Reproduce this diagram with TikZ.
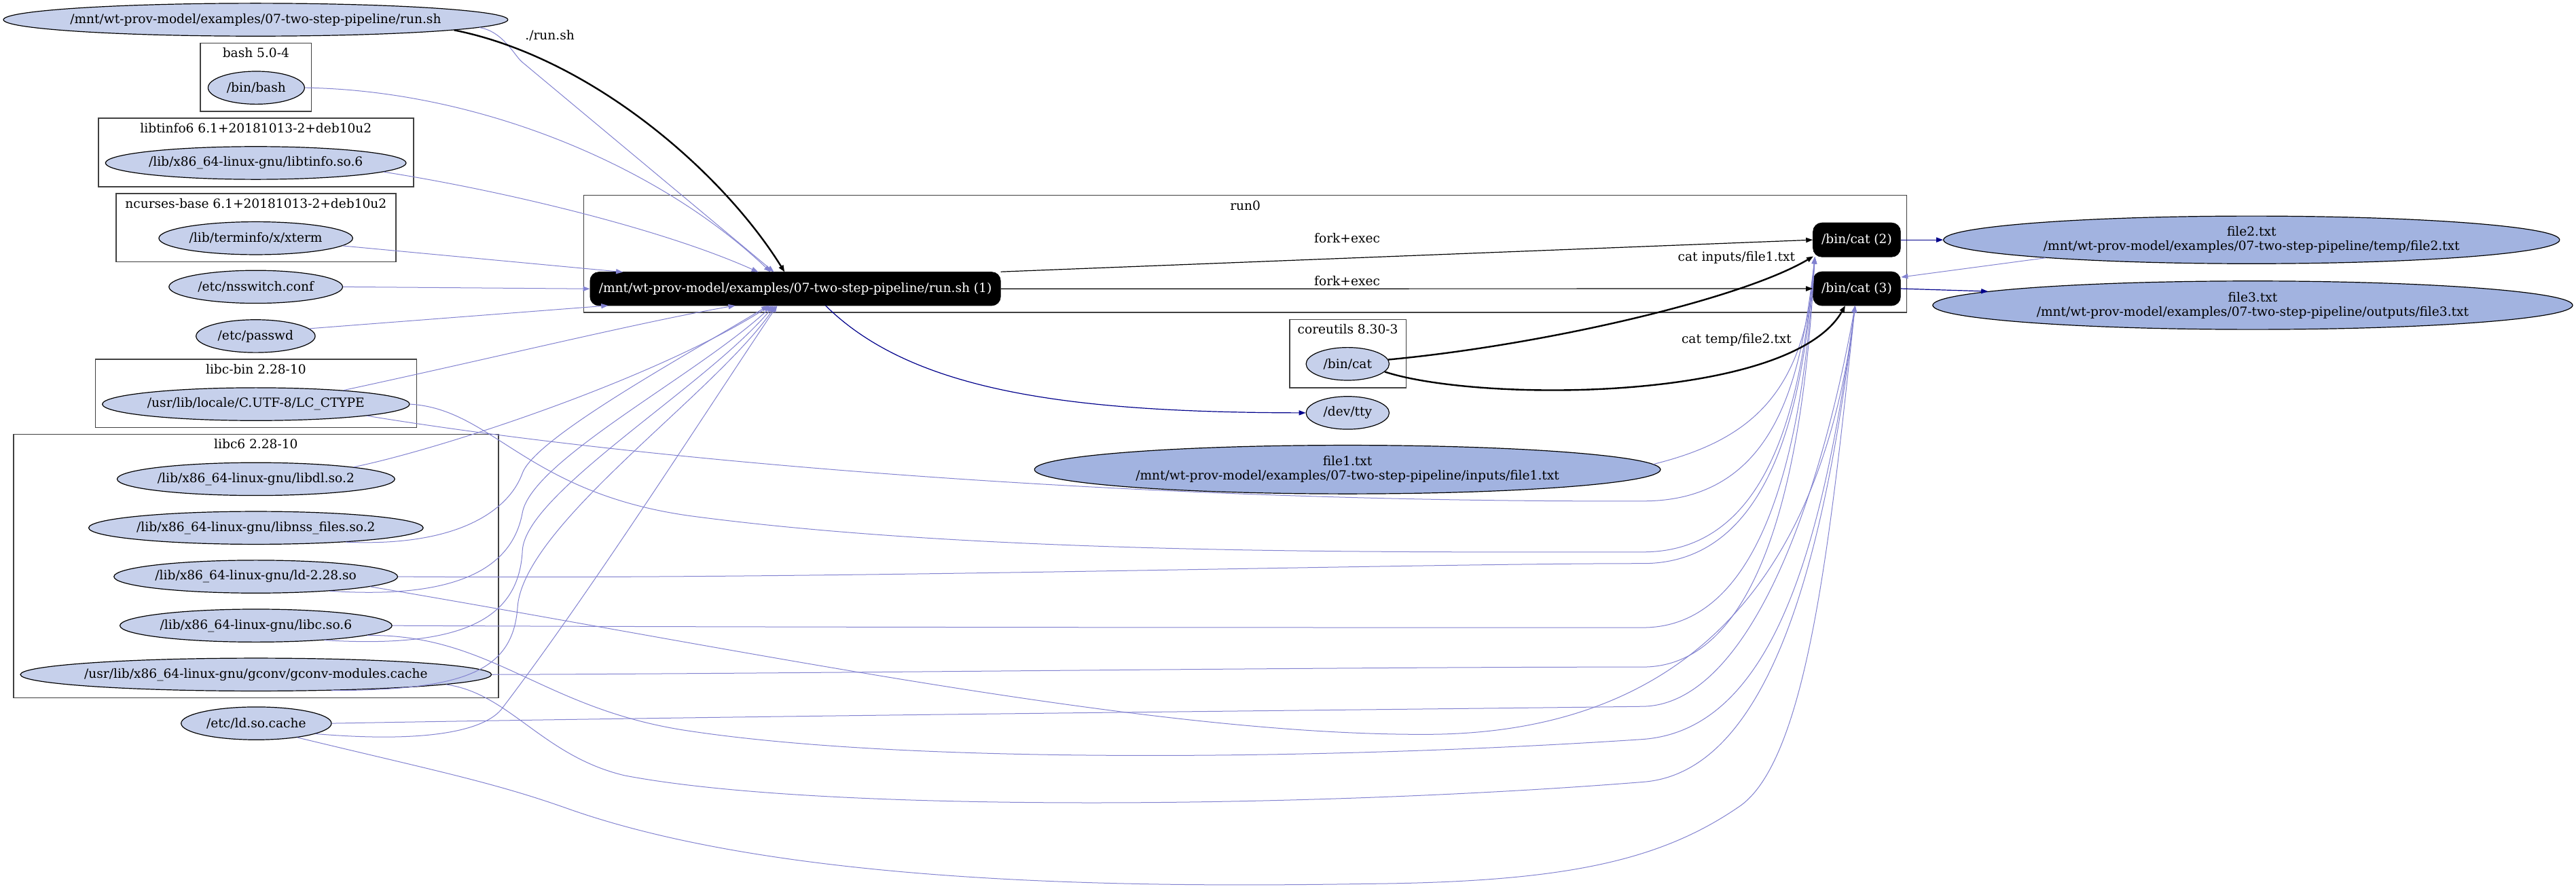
\documentclass[tikz,border=0pt]{standalone}
\usepackage{fontspec}
\setmainfont{DejaVu Serif}
\usetikzlibrary{shapes.geometric,arrows.meta,calc}
\definecolor{nfill}{RGB}{198,208,235}
\definecolor{ffill}{RGB}{162,179,224}
\definecolor{pcol}{RGB}{130,130,208}
\definecolor{ncol}{RGB}{0,0,139}
\begin{document}
\begin{tikzpicture}[x=1.2095pt,y=-1.2095pt,
  font=\fontsize{9.3}{10.5}\selectfont,
  el/.style 2 args={ellipse,draw=black,line width=0.6pt,fill=nfill,inner sep=0pt,minimum width=#1*1.2095pt,minimum height=#2*1.2095pt},
  fl/.style 2 args={el={#1}{#2},fill=ffill},
  proc/.style 2 args={rectangle,rounded corners=6.5pt,fill=black,draw=black,text=white,inner sep=0pt,minimum width=#1*1.2095pt,minimum height=#2*1.2095pt},
  clu/.style 2 args={rectangle,draw=black!75,line width=0.7pt,inner sep=0pt,minimum width=#1*1.2095pt,minimum height=#2*1.2095pt},
  eP/.style={draw=pcol,line width=0.5pt,-{Triangle[length=5pt,width=3.6pt]}},
  eN/.style={draw=ncol,line width=0.6pt,-{Triangle[length=5pt,width=3.6pt]}},
  eB/.style={draw=black,line width=0.6pt,-{Triangle[length=5pt,width=3.6pt]}},
  eBT/.style={draw=black,line width=1.2pt,-{Triangle[length=5pt,width=3.6pt]}},
  elab/.style={inner sep=0pt,text=black},
  ttl/.style={inner sep=0pt}
]
\useasboundingbox (0,0) rectangle (1568,541);

% clusters
\node[clu={67.6}{41.6}] (cbash) at (155.8,47) {};
\node[ttl] (tbash) at (155.8,32.1) {bash 5.0-4};
\node[clu={191.9}{41.7}] (ctinfo) at (155.85,92.85) {};
\node[ttl] (ttinfo) at (155.8,77.8) {libtinfo6 6.1+20181013-2+deb10u2};
\node[clu={170.3}{41.5}] (cncurses) at (155.85,138.55) {};
\node[ttl] (tncurses) at (155.8,124) {ncurses-base 6.1+20181013-2+deb10u2};
\node[clu={195.6}{41.5}] (clibcbin) at (155.8,239.45) {};
\node[ttl] (tlibcbin) at (155.8,224.6) {libc-bin 2.28-10};
\node[clu={295.2}{160.3}] (clibc6) at (155.8,344.55) {};
\node[ttl] (tlibc6) at (155.8,270) {libc6 2.28-10};
\node[clu={805.2}{71.3}] (crun0) at (758,154.55) {};
\node[ttl] (trun0) at (758,125) {run0};
\node[clu={70.8}{41.4}] (ccore) at (820.4,215.3) {};
\node[ttl] (tcore) at (820.4,200.5) {coreutils 8.30-3};

% file nodes
\node[el={307}{20},label=center:{/mnt/wt-prov-model/examples/07-two-step-pipeline/run.sh}] (runsh) at (155.6,12) {};
\node[el={58.7}{20},label=center:{/bin/bash}] (bash) at (156,53.4) {};
\node[el={183}{20},label=center:{/lib/x86\_64-linux-gnu/libtinfo.so.6}] (libtinfo) at (155.7,99.2) {};
\node[el={118}{20},label=center:{/lib/terminfo/x/xterm}] (xterm) at (155.7,145) {};
\node[el={105.7}{20},label=center:{/etc/nsswitch.conf}] (nsswitch) at (155.7,174.6) {};
\node[el={72.5}{20},label=center:{/etc/passwd}] (passwd) at (155.6,204.6) {};
\node[el={187}{20},label=center:{/usr/lib/locale/C.UTF-8/LC\_CTYPE}] (lcctype) at (155.8,246) {};
\node[el={169}{20},label=center:{/lib/x86\_64-linux-gnu/libdl.so.2}] (libdl) at (155.8,291.6) {};
\node[el={203.6}{20},label=center:{/lib/x86\_64-linux-gnu/libnss\_files.so.2}] (libnss) at (155.8,321.3) {};
\node[el={172.7}{20},label=center:{/lib/x86\_64-linux-gnu/ld-2.28.so}] (ld) at (155.7,351) {};
\node[el={165.6}{20},label=center:{/lib/x86\_64-linux-gnu/libc.so.6}] (libc) at (155.8,380.8) {};
\node[el={286.8}{20},label=center:{/usr/lib/x86\_64-linux-gnu/gconv/gconv-modules.cache}] (gconv) at (155.8,410.6) {};
\node[el={91.5}{20},label=center:{/etc/ld.so.cache}] (ldcache) at (156,440.3) {};
\node[el={50.6}{20},label=center:{/bin/cat}] (bincat) at (820.3,221.5) {};
\node[el={50.6}{20},label=center:{/dev/tty}] (devtty) at (820.3,251.3) {};
\node[fl={381}{29.6},label={[align=center]center:{file1.txt\\/mnt/wt-prov-model/examples/07-two-step-pipeline/inputs/file1.txt}}] (file1) at (820.2,285.8) {};
\node[fl={375}{29},label={[align=center]center:{file2.txt\\/mnt/wt-prov-model/examples/07-two-step-pipeline/temp/file2.txt}}] (file2) at (1370.5,146) {};
\node[fl={389.5}{29.5},label={[align=center]center:{file3.txt\\/mnt/wt-prov-model/examples/07-two-step-pipeline/outputs/file3.txt}}] (file3) at (1371.2,185.8) {};

% process nodes
\node[proc={249.8}{20.4}] (proc1) at (484.1,175.8) {/mnt/wt-prov-model/examples/07-two-step-pipeline/run.sh (1)};
\node[proc={53.2}{20.7}] (cat2) at (1130.2,146) {/bin/cat (2)};
\node[proc={53.2}{20.6}] (cat3) at (1130.2,175.7) {/bin/cat (3)};

% purple edges into run.sh (1)
\draw[eP] (runsh.358) .. controls (306,19) and (313,33.5) .. (317.5,37.5) -- ($(proc1)+(-13,-10.2)$);
\draw[eP] (bash.east) .. controls (290,55) and (400,100) .. ($(proc1)+(-15,-10.2)$);
\draw[eP] (libtinfo.356) .. controls (300,115) and (400,138) .. ($(proc1)+(-22.5,-10.2)$);
\draw[eP] (xterm.355) -- ($(proc1)+(-105,-10.2)$);
\draw[eP] (nsswitch.east) -- (proc1.west);
\draw[eP] (passwd.8) -- ($(proc1)+(-114,10.2)$);
\draw[eP] (lcctype.9) .. controls (300,218) and (390,196) .. ($(proc1)+(-36.6,10.2)$);
\draw[eP] (libdl.7) .. controls (270,273) and (400,230) .. ($(proc1)+(-15.3,10.2)$);
\draw[eP] (libnss.351) .. controls (280,333) and (310,310) .. (318,288) .. controls (326,266) and (420,215) .. ($(proc1)+(-16.5,10.2)$);
\draw[eP] (ld.349) .. controls (280,365) and (312,345) .. (318,312) .. controls (324,280) and (425,228) .. ($(proc1)+(-14,10.2)$);
\draw[eP] (libc.348) .. controls (285,395) and (316,375) .. (318,335) .. controls (320,300) and (430,235) .. ($(proc1)+(-13,10.2)$);
\draw[eP] (gconv.348) .. controls (280,420) and (312,410) .. (315,370) .. controls (318,320) and (435,240) .. ($(proc1)+(-12,10.2)$);
\draw[eP] (ldcache.350) .. controls (255,452) and (293,446) .. (305,432) .. controls (360,360) and (430,250) .. ($(proc1)+(-11,10.2)$);

% purple edges into /bin/cat (2)
\draw[eP] (lcctype.354) .. controls (400,282) and (700,306) .. (1000,305) .. controls (1086,305) and (1097,220) .. ($(cat2)+(-25.5,10.4)$);
\draw[eP] (lcctype.east) .. controls (300,249) and (320,300) .. (420,314) .. controls (600,338) and (850,336) .. (1000,336) .. controls (1087,336) and (1098,220) .. ($(cat2)+(-25.5,10.4)$);
\draw[eP] (ld.east) .. controls (500,353) and (850,343) .. (1000,343) .. controls (1088,343) and (1099,220) .. ($(cat2)+(-25.5,10.4)$);
\draw[eP] (libc.east) .. controls (500,382) and (800,382) .. (1000,382) .. controls (1089,382) and (1100,220) .. ($(cat2)+(-25.5,10.4)$);
\draw[eP] (gconv.east) .. controls (500,410) and (800,406) .. (1000,406) .. controls (1090,406) and (1101,220) .. ($(cat2)+(-25.5,10.4)$);
\draw[eP] (file1.1) .. controls (1065,268) and (1099,240) .. ($(cat2)+(-25.5,10.4)$);

% purple edges into /bin/cat (3)
\draw[eP] (ldcache.east) .. controls (500,435) and (850,432) .. (1000,430) .. controls (1060,429) and (1105,320) .. ($(cat3)+(-1,10.3)$);
\draw[eP] (ld.355) .. controls (450,395) and (700,448) .. (870,447) .. controls (1020,446) and (1108,360) .. ($(cat3)+(-1,10.3)$);
\draw[eP] (libc.355) .. controls (300,386) and (330,432) .. (420,445) .. controls (560,466) and (820,462) .. (1000,450) .. controls (1080,444) and (1110,330) .. ($(cat3)+(-1,10.3)$);
\draw[eP] (gconv.357) .. controls (310,422) and (330,460) .. (380,472) .. controls (500,495) and (800,492) .. (1000,476) .. controls (1080,470) and (1112,330) .. ($(cat3)+(-1,10.3)$);
\draw[eP] (ldcache.341) .. controls (260,468) and (300,476) .. (345,492) .. controls (480,540) and (700,540) .. (830,538) .. controls (950,537) and (1010,525) .. (1060,490) .. controls (1100,460) and (1114,330) .. ($(cat3)+(-1,10.3)$);
\draw[eP] (file2.185) -- ($(cat3)+(27,-7)$);

% navy edges
\draw[eN] ($(proc1)+(18.4,10.2)$) .. controls (555,238) and (650,251) .. (devtty.west);
\draw[eN] (cat2.east) -- (file2.west);
\draw[eN] (cat3.east) -- (file3.177.5);

% black edges
\draw[eBT] (runsh.357) .. controls (360,35) and (440,105) .. ($(proc1)+(-6.5,-10.2)$);
\draw[eB] (proc1.north east) -- (cat2.west);
\draw[eB] (proc1.east) -- (cat3.west);
\draw[eBT] (bincat.6) .. controls (940,210) and (1060,182) .. ($(cat2)+(-26.4,10)$);
\draw[eBT] (bincat.348) .. controls (900,245) and (1090,245) .. ($(cat3)+(-7,10.3)$);

% edge labels
\node[elab] (lrun) at (334.7,21.7) {./run.sh};
\node[elab] (lfork1) at (820,145) {fork+exec};
\node[elab] (lfork2) at (820,171) {fork+exec};
\node[elab] (lcat1) at (1057,157) {cat inputs/file1.txt};
\node[elab] (lcat2) at (1057,207) {cat temp/file2.txt};
\end{tikzpicture}
\end{document}
